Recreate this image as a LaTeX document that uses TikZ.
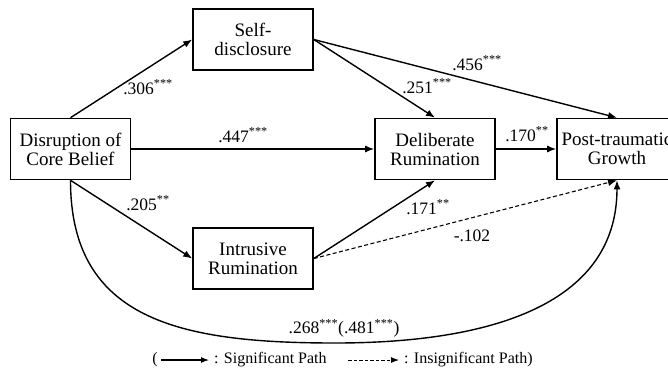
\documentclass[tikz,border=0pt]{standalone}
\usepackage{fontspec}
\setmainfont{Liberation Serif}
\usetikzlibrary{arrows.meta}
\begin{document}
\begin{tikzpicture}[x=1pt,y=-1pt,
  box/.style={draw,line width=1.6pt,minimum width=120pt,minimum height=61pt,inner sep=0pt,align=center,font=\fontsize{19}{20}\selectfont},
  lab/.style={font=\fontsize{17.5}{18}\selectfont,inner sep=0pt},
  leg/.style={font=\fontsize{16}{17}\selectfont,inner sep=0pt},
  path/.style={line width=1.4pt,-{Latex[length=9pt,width=7pt]}},
  npath/.style={line width=1.1pt,dashed,dash pattern=on 4pt off 2.5pt,-{Latex[length=9pt,width=7pt]}}]
\useasboundingbox (0,0) rectangle (668,370);
\fill[white] (0,0) rectangle (668,370);
\node[box] (dis) at (70.5,149) {Disruption of\\[-1pt]Core Belief};
\node[box] (self) at (253,39.5) {Self-\\[-1pt]disclosure};
\node[box] (del) at (435,149) {Deliberate\\[-1pt]Rumination};
\node[box] (post) at (617,149) {Post-traumatic\\[-1pt]Growth};
\node[box] (intr) at (253,258.5) {Intrusive\\[-1pt]Rumination};
\draw[path] (dis.north) -- (self.west);
\draw[path] (self.east) -- (del.north);
\draw[path] (self.east) -- (post.north);
\draw[path] (dis.east) -- (del.west);
\draw[path] (del.east) -- (post.west);
\draw[path] (dis.south) -- (intr.west);
\draw[path] (intr.east) -- (del.south);
\draw[npath] (intr.east) -- (post.south);
\coordinate (low) at (335,343);
\draw[path] (dis.south) .. controls (70.5,320) and (180,343) .. (low) .. controls (500,343) and (617,300) .. (post.south);
\node[lab] (l1) at (148,87) {.306\textsuperscript{***}};
\node[lab] (l2) at (243,135) {.447\textsuperscript{***}};
\node[lab] (l3) at (427,86) {.251\textsuperscript{***}};
\node[lab] (l4) at (477,63) {.456\textsuperscript{***}};
\node[lab] (l5) at (527,134) {.170\textsuperscript{**}};
\node[lab] (l6) at (148,203) {.205\textsuperscript{**}};
\node[lab] (l7) at (428,207) {.171\textsuperscript{**}};
\node[lab] (l8) at (472,236) {-.102};
\node[lab] (l9) at (344,328) {.268\textsuperscript{***}(.481\textsuperscript{***})};
\node[leg] (lp) at (155,360) {(};
\coordinate (s1) at (161,360);
\coordinate (s2) at (209,360);
\draw[line width=1.1pt,-{Latex[length=8pt,width=6pt]}] (s1) -- (s2);
\node[leg,anchor=west] (lt1) at (214,360) {: Significant Path};
\coordinate (d1) at (348,360);
\coordinate (d2) at (399,360);
\draw[line width=1pt,dash pattern=on 3.5pt off 2pt,-{Latex[length=8pt,width=6pt]}] (d1) -- (d2);
\node[leg,anchor=west] (lt2) at (404,360) {: Insignificant Path)};
\end{tikzpicture}
\end{document}
